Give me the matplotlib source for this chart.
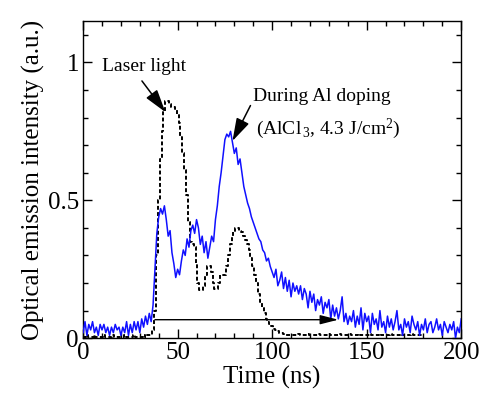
import numpy as np
import matplotlib
matplotlib.use("Agg")
import matplotlib.pyplot as plt

# ── data (1 ns sampling) ─────────────────────────────────────────────
time_ns = np.arange(0, 201)

# blue: optical emission during Al doping
emission = [
    0.02, 0.06, 0.01, 0.05, 0.03, 0.06, 0.02, 0.04, 0.01, 0.05,   # 0-9
    0.03, 0.05, 0.02, 0.04, 0.01, 0.04, 0.02, 0.05, 0.03, 0.04,   # 10-19
    0.01, 0.04, 0.02, 0.06, 0.01, 0.05, 0.02, 0.06, 0.03, 0.06,   # 20-29
    0.02, 0.07, 0.04, 0.08, 0.05, 0.09, 0.06, 0.12, 0.25, 0.38,   # 30-39
    0.44, 0.47, 0.45, 0.48, 0.43, 0.37, 0.39, 0.31, 0.27, 0.22,   # 40-49
    0.25, 0.23, 0.28, 0.32, 0.30, 0.36, 0.33, 0.39, 0.41, 0.38,   # 50-59
    0.43, 0.40, 0.34, 0.37, 0.31, 0.35, 0.29, 0.33, 0.37, 0.35,   # 60-69
    0.43, 0.48, 0.55, 0.60, 0.66, 0.72, 0.74, 0.73, 0.75, 0.71,   # 70-79
    0.67, 0.69, 0.63, 0.65, 0.60, 0.55, 0.52, 0.49, 0.47, 0.44,   # 80-89
    0.42, 0.40, 0.38, 0.36, 0.35, 0.32, 0.31, 0.28, 0.29, 0.26,   # 90-99
    0.24, 0.22, 0.25, 0.19, 0.21, 0.24, 0.18, 0.22, 0.17, 0.21,   # 100-109
    0.15, 0.20, 0.17, 0.19, 0.16, 0.19, 0.14, 0.18, 0.16, 0.11,   # 110-119
    0.17, 0.13, 0.16, 0.10, 0.14, 0.12, 0.15, 0.09, 0.13, 0.11,   # 120-129
    0.14, 0.07, 0.12, 0.08, 0.11, 0.07, 0.10, 0.15, 0.06, 0.09,   # 130-139
    0.05, 0.08, 0.06, 0.10, 0.04, 0.08, 0.05, 0.11, 0.03, 0.09,   # 140-149
    0.06, 0.08, 0.02, 0.09, 0.05, 0.07, 0.03, 0.10, 0.04, 0.06,   # 150-159
    0.02, 0.08, 0.04, 0.07, 0.03, 0.06, 0.10, 0.03, 0.05, 0.01,   # 160-169
    0.07, 0.04, 0.06, 0.02, 0.08, 0.05, 0.03, 0.06, 0.01, 0.05,   # 170-179
    0.03, 0.07, 0.02, 0.05, 0.06, 0.02, 0.04, 0.07, 0.03, 0.05,   # 180-189
    0.01, 0.06, 0.04, 0.02, 0.05, 0.03, 0.06, 0.00, 0.04, 0.02,   # 190-199
    0.07,                                                         # 200
]

# black dashed: laser light (0-180 ns)
laser_t = np.arange(0, 181)
laser = [
    0.005, 0.005, 0.01, 0.005, 0.005, 0.005, 0.01, 0.005, 0.005, 0.005,   # 0-9
    0.005, 0.01, 0.005, 0.005, 0.005, 0.005, 0.01, 0.005, 0.005, 0.005,   # 10-19
    0.005, 0.005, 0.01, 0.005, 0.005, 0.005, 0.005, 0.01, 0.005, 0.005,   # 20-29
    0.005, 0.005, 0.01, 0.005, 0.01, 0.01, 0.01, 0.03, 0.10, 0.30,        # 30-39
    0.50, 0.65, 0.75, 0.82, 0.86, 0.86, 0.85, 0.84, 0.84, 0.83,           # 40-49
    0.81, 0.78, 0.73, 0.67, 0.61, 0.52, 0.42, 0.35, 0.34, 0.33,           # 50-59
    0.27, 0.20, 0.175, 0.175, 0.19, 0.23, 0.26, 0.26, 0.24, 0.20,         # 60-69
    0.18, 0.18, 0.20, 0.23, 0.23, 0.23, 0.26, 0.30, 0.34, 0.37,           # 70-79
    0.39, 0.40, 0.40, 0.39, 0.385, 0.37, 0.355, 0.34, 0.32, 0.29,         # 80-89
    0.26, 0.23, 0.20, 0.16, 0.13, 0.11, 0.09, 0.07, 0.06, 0.05,           # 90-99
    0.045, 0.035, 0.03, 0.025, 0.02, 0.018, 0.015, 0.012, 0.01, 0.01,     # 100-109
    0.01, 0.012, 0.01, 0.01, 0.015, 0.01, 0.01, 0.012, 0.01, 0.015,       # 110-119
    0.01, 0.01, 0.012, 0.01, 0.01, 0.015, 0.01, 0.012, 0.01, 0.01,        # 120-129
    0.015, 0.01, 0.01, 0.012, 0.01, 0.01, 0.015, 0.01, 0.012, 0.01,       # 130-139
    0.01, 0.015, 0.01, 0.01, 0.012, 0.01, 0.015, 0.01, 0.01, 0.012,       # 140-149
    0.01, 0.01, 0.015, 0.01, 0.012, 0.01, 0.01, 0.015, 0.01, 0.01,        # 150-159
    0.012, 0.01, 0.01, 0.015, 0.01, 0.01, 0.012, 0.01, 0.015, 0.01,       # 160-169
    0.01, 0.012, 0.01, 0.01, 0.015, 0.01, 0.01, 0.012, 0.01, 0.01,        # 170-179
    0.01,                                                                 # 180
]

# horizontal arrow (time span)
span_start, span_end, span_y = 38, 135, 0.067

# ── style ─────────────────────────────────────────────────────────────
plt.rcParams["font.family"] = ["Liberation Serif", "DejaVu Serif"]
plt.rcParams["mathtext.fontset"] = "custom"
plt.rcParams["mathtext.rm"] = "Liberation Serif"
plt.rcParams["mathtext.it"] = "Liberation Serif:italic"

fig = plt.figure(figsize=(4.86, 4.05), dpi=100)
ax = fig.add_axes([0.171, 0.165, 0.778, 0.783])

ax.plot(time_ns, emission, color="#1010ff", linewidth=1.1, zorder=3)
ax.plot(laser_t, laser, color="black", linewidth=1.4, linestyle=(0, (2.0, 1.2)),
        drawstyle="steps-mid", zorder=2)

# arrow along the baseline
ax.annotate("", xy=(span_end, span_y), xytext=(span_start, span_y),
            arrowprops=dict(arrowstyle="-|>,head_length=1.1,head_width=0.28",
                            color="black", lw=1.0, shrinkA=0, shrinkB=0))

# labels with arrows
ax.annotate("Laser light", xy=(43.5, 0.82), xytext=(10, 0.955),
            fontsize=14, ha="left", va="bottom",
            arrowprops=dict(arrowstyle="-|>,head_length=1.0,head_width=0.3",
                            color="black", lw=1.1, shrinkA=3, shrinkB=0,
                            relpos=(0.42, 0.0)))
ax.annotate("During Al doping", xy=(79, 0.715), xytext=(90, 0.845),
            fontsize=14, ha="left", va="bottom",
            arrowprops=dict(arrowstyle="-|>,head_length=1.0,head_width=0.3",
                            color="black", lw=1.1, shrinkA=0, shrinkB=0,
                            relpos=(0.0, 0.3)))
ax.text(91.5, 0.76, "(AlCl$_{\\,3}$, 4.3 J/cm$^2$)", fontsize=14, ha="left", va="center")

# axes
ax.set_xlim(0, 200)
ax.set_ylim(0, 1.15)
ax.set_xticks([0, 50, 100, 150, 200])
ax.set_xticks(np.arange(0, 201, 10), minor=True)
ax.set_yticks([0, 0.5, 1])
ax.set_yticklabels(["0", "0.5", "1"])
ax.set_yticks(np.arange(0, 1.15, 0.1), minor=True)
ax.tick_params(which="both", direction="in", top=True, right=True, labelsize=18, width=1.0)
ax.tick_params(which="major", length=6.5, pad=3)
ax.tick_params(which="minor", length=3.6)
for s in ax.spines.values():
    s.set_linewidth(1.0)

ax.set_xlabel("Time (ns)", fontsize=18, labelpad=1)
ax.set_ylabel("Optical emission intensity (a.u.)", fontsize=18, labelpad=2)

fig.savefig("out.png", dpi=100)
